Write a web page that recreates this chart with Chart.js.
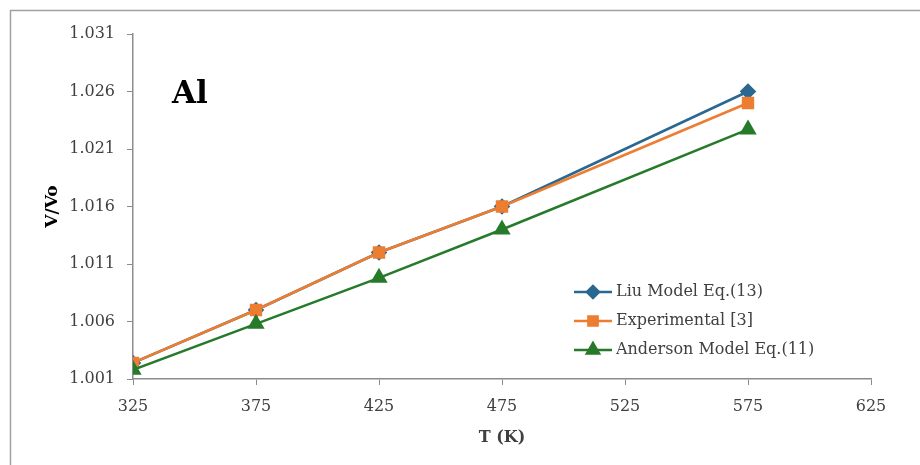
<!DOCTYPE html>
<html>
<head>
<meta charset="utf-8">
<script src="https://cdn.jsdelivr.net/npm/chart.js@4/dist/chart.umd.min.js"></script>
<style>
  html, body { margin: 0; padding: 0; background: #fff; }
  #wrap { width: 920px; height: 465px; position: relative; }
</style>
</head>
<body>
<div id="wrap"><canvas id="c" width="920" height="465"></canvas></div>
<script>
// Temperatures (K) and relative volume V/Vo for aluminium
const temperatures = [325, 375, 425, 475, 575];
const liuModel      = [1.0024, 1.0070, 1.0120, 1.0160, 1.0260];
const experimental  = [1.0024, 1.0070, 1.0120, 1.0160, 1.0250];
const andersonModel = [1.0018, 1.0058, 1.0098, 1.0140, 1.0227];

const xTicks = [325, 375, 425, 475, 525, 575, 625];
const yTicks = [1.001, 1.006, 1.011, 1.016, 1.021, 1.026, 1.031];

const seriesNames = ['Liu Model Eq.(13)', 'Experimental [3]', 'Anderson Model Eq.(11)'];
const materialLabel = 'Al';
const xTitle = 'T (K)';
const yTitle = 'V/Vo';

const FONT = '"DejaVu Serif", "Liberation Serif", serif';
const AXIS_GREY = '#8c8c8c';
const TEXT_GREY = '#404040';

function pts(vals) { return temperatures.map((t, i) => ({ x: t, y: vals[i] })); }

// Frame lines, material label and legend drawn over the chart area
const decorations = {
  id: 'decorations',
  afterDraw(chart) {
    const ctx = chart.ctx;
    ctx.save();
    ctx.strokeStyle = '#a0a0a0';
    ctx.lineWidth = 1.5;
    ctx.beginPath();
    ctx.moveTo(10.5, 465); ctx.lineTo(10.5, 10.5); ctx.lineTo(920, 10.5);
    ctx.stroke();

    ctx.fillStyle = '#000';
    ctx.font = 'bold 31px ' + FONT;
    ctx.textBaseline = 'alphabetic';
    ctx.textAlign = 'left';
    ctx.fillText(materialLabel, 172, 103);

    // legend
    const x0 = 574, x1 = 612, rowY = [292, 321, 350];
    chart.data.datasets.forEach((ds, i) => {
      const y = rowY[i];
      ctx.strokeStyle = ds.borderColor;
      ctx.lineWidth = 2.5;
      ctx.beginPath(); ctx.moveTo(x0, y); ctx.lineTo(x1, y); ctx.stroke();
      ctx.fillStyle = ds.backgroundColor;
      ctx.strokeStyle = ds.backgroundColor;
      Chart.helpers.drawPoint(ctx, {
        pointStyle: ds.pointStyle, radius: ds.pointRadius - 0.5, borderWidth: 1
      }, (x0 + x1) / 2, y);
      ctx.fillStyle = TEXT_GREY;
      ctx.font = '16px ' + FONT;
      ctx.textBaseline = 'middle';
      ctx.textAlign = 'left';
      ctx.fillText(ds.label, 616, y);
    });
    ctx.restore();
  }
};

new Chart(document.getElementById('c'), {
  type: 'line',
  data: {
    datasets: [
      {
        label: seriesNames[0], data: pts(liuModel),
        borderColor: '#2a6791', backgroundColor: '#2a6791',
        pointStyle: 'rectRot', pointRadius: 6.5, borderWidth: 2.5, order: 3
      },
      {
        label: seriesNames[1], data: pts(experimental),
        borderColor: '#ed7d31', backgroundColor: '#ed7d31',
        pointStyle: 'rect', pointRadius: 7, borderWidth: 2.5, order: 2
      },
      {
        label: seriesNames[2], data: pts(andersonModel),
        borderColor: '#267a2a', backgroundColor: '#267a2a',
        pointStyle: 'triangle', pointRadius: 7.5, borderWidth: 2.5, order: 1
      }
    ]
  },
  options: {
    responsive: false,
    animation: false,
    layout: { padding: { left: 38, right: 49, top: 34, bottom: 14 } },
    plugins: { legend: { display: false }, tooltip: { enabled: false } },
    elements: { line: { tension: 0 }, point: { borderWidth: 1 } },
    scales: {
      x: {
        type: 'linear', min: 325, max: 625,
        afterBuildTicks: a => { a.ticks = xTicks.map(v => ({ value: v })); },
        afterFit: s => { s.height = 72; },
        grid: { drawOnChartArea: false, drawTicks: true, tickLength: 6, color: AXIS_GREY },
        border: { color: AXIS_GREY, width: 1.5 },
        ticks: { color: TEXT_GREY, font: { family: FONT, size: 16 }, padding: 12, maxRotation: 0 },
        title: { display: true, text: xTitle, color: TEXT_GREY,
                 font: { family: FONT, size: 16, weight: 'bold' }, padding: { top: 2 } }
      },
      y: {
        type: 'linear', min: 1.001, max: 1.031,
        afterBuildTicks: a => { a.ticks = yTicks.map(v => ({ value: v })); },
        afterFit: s => { s.width = 95; },
        grid: { drawOnChartArea: false, drawTicks: true, tickLength: 6, color: AXIS_GREY },
        border: { color: AXIS_GREY, width: 1.5 },
        ticks: { color: TEXT_GREY, font: { family: FONT, size: 16 }, padding: 12,
                 callback: v => v.toFixed(3) },
        title: { display: true, text: yTitle, color: '#000',
                 font: { family: FONT, size: 17, weight: 'bold' }, padding: { bottom: 4 } }
      }
    }
  },
  plugins: [decorations]
});
</script>
</body>
</html>
